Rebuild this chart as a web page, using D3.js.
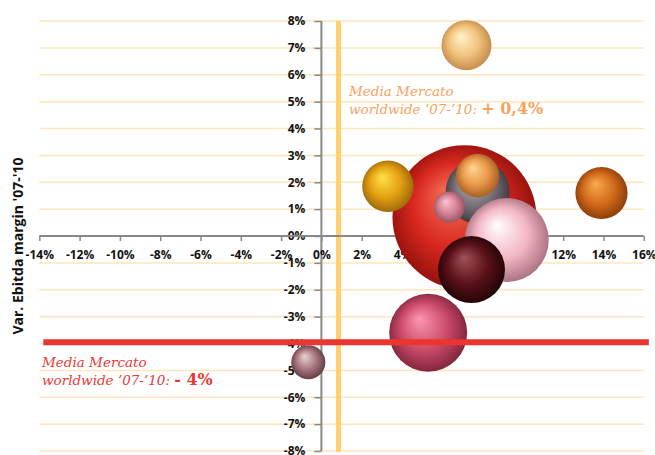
<!DOCTYPE html>
<html lang="it">
<head>
    <meta charset="UTF-8">
    <title>Var. Ebitda margin '07-'10</title>
    <script src="https://d3js.org/d3.v7.min.js"></script>
    <style>
        body { margin: 0; background: #fff; }
        .tick-label {
            font-family: "Open Sans", "Liberation Sans", sans-serif;
            font-size: 12px;
            font-weight: bold;
            fill: #111;
        }
        .axis-title {
            font-family: "Open Sans", "Liberation Sans", sans-serif;
            font-size: 14px;
            font-weight: bold;
            fill: #111;
        }
        .note {
            font-family: Georgia, "DejaVu Serif", serif;
            font-style: italic;
            font-size: 13.5px;
        }
        .note-value {
            font-style: normal;
            font-weight: bold;
            font-size: 16px;
        }
    </style>
</head>
<body>
    <svg width="655" height="455"></svg>

    <script>
        // bubble data (x = var. ricavi %, y = var. ebitda margin %)
        var names  = ["a", "b", "c", "d", "e", "f", "g", "h", "i", "j", "k"];
        var xVals  = [7.1, 3.3, 7.75, 7.75, 6.35, 9.2, 7.45, 7.2, 5.3, -0.65, 13.9];
        var yVals  = [0.7, 1.85, 1.65, 2.25, 1.08, -0.15, -1.25, 7.1, -3.6, -4.7, 1.6];
        var sizes  = [51.8, 6.6, 10.2, 4.7, 2.4, 17.6, 11.2, 6.25, 15.2, 2.9, 6.8];
        var colors = [
            ["#f6705a", "#d8281f", "#8a0e0a"],
            ["#ffe44a", "#e3a012", "#94600a"],
            ["#c0b8b8", "#77707a", "#3a3234"],
            ["#ffd890", "#e8984a", "#9e5618"],
            ["#f8c4d0", "#d58294", "#8e4e5a"],
            ["#ffffff", "#f2b6c4", "#a06878"],
            ["#a0525a", "#5a1018", "#1a0305"],
            ["#fff4c8", "#f0c27c", "#bc8644"],
            ["#fc98b0", "#cc4a6a", "#762036"],
            ["#ecd2d2", "#a6747c", "#56363c"],
            ["#f8ac4c", "#d26a1a", "#823606"]
        ];

        var xTicks = d3.range(-14, 17, 2);
        var yTicks = d3.range(-8, 9, 1);

        var refX = 0.85;   // Media Mercato worldwide + 0,4%
        var refY = -3.95;  // Media Mercato worldwide - 4%

        var bubbles = names.map(function(n, i) {
            return { name: n, x: xVals[i], y: yVals[i], size: sizes[i], color: colors[i] };
        });

        var svg = d3.select("svg");

        var x = d3.scaleLinear().domain([-14, 16]).range([39.3, 643.8]);
        var y = d3.scaleLinear().domain([-8, 8]).range([451, 21]);
        var r = d3.scaleSqrt().domain([0, d3.max(sizes)]).range([0, 72]);

        var fmt = function(d) { return d + "%"; };

        // grid lines
        svg.append("g")
           .selectAll("line")
           .data(yTicks.filter(function(d) { return d !== 0; }))
           .join("line")
           .attr("x1", x(-14))
           .attr("x2", x(16))
           .attr("y1", function(d) { return y(d); })
           .attr("y2", function(d) { return y(d); })
           .attr("stroke", "#ffe6bc")
           .attr("stroke-width", 1.5);

        // reference line vertical
        svg.append("line")
           .attr("x1", x(refX)).attr("x2", x(refX))
           .attr("y1", y(8)).attr("y2", y(-8) + 1)
           .attr("stroke", "#ffd06c")
           .attr("stroke-width", 5);

        // axes
        var yAxis = svg.append("g")
           .attr("transform", "translate(" + x(0) + ",0)")
           .call(d3.axisLeft(y).tickValues(yTicks).tickFormat(fmt).tickSize(7).tickPadding(9));

        var xAxis = svg.append("g")
           .attr("transform", "translate(0," + y(0) + ")")
           .call(d3.axisBottom(x).tickValues(xTicks).tickFormat(fmt).tickSize(5).tickPadding(9));

        [xAxis, yAxis].forEach(function(a) {
            a.select(".domain").attr("stroke", "#888").attr("stroke-width", 2);
            a.selectAll(".tick line").attr("stroke", "#888").attr("stroke-width", 1.5);
            a.selectAll(".tick text").attr("class", "tick-label").attr("fill", null);
        });
        xAxis.select(".domain").attr("d", "M" + x(-14) + ",0H" + x(16));
        yAxis.select(".domain").attr("d", "M0," + y(8) + "V" + y(-8));

        // bubble gradients
        var defs = svg.append("defs");
        bubbles.forEach(function(b) {
            var g = defs.append("radialGradient")
                .attr("id", "grad-" + b.name)
                .attr("cx", "50%").attr("cy", "50%").attr("r", "55%")
                .attr("fx", "38%").attr("fy", "32%");
            g.append("stop").attr("offset", "0%").attr("stop-color", b.color[0]);
            g.append("stop").attr("offset", "55%").attr("stop-color", b.color[1]);
            g.append("stop").attr("offset", "100%").attr("stop-color", b.color[2]);
        });

        svg.append("g")
           .selectAll("circle")
           .data(bubbles)
           .join("circle")
           .attr("cx", function(d) { return x(d.x); })
           .attr("cy", function(d) { return y(d.y); })
           .attr("r", function(d) { return r(d.size); })
           .attr("fill", function(d) { return "url(#grad-" + d.name + ")"; });

        // reference line horizontal
        svg.append("line")
           .attr("x1", x(-13.8)).attr("x2", x(16.25))
           .attr("y1", y(refY)).attr("y2", y(refY))
           .attr("stroke", "#ea3530")
           .attr("stroke-width", 6);

        // notes
        function note(px, py, color, value) {
            svg.append("text")
                .attr("class", "note")
                .attr("x", px).attr("y", py)
                .attr("fill", color)
                .text("Media Mercato");
            var l2 = svg.append("text")
                .attr("class", "note")
                .attr("x", px).attr("y", py + 18)
                .attr("fill", color);
            l2.append("tspan").text("worldwide \u201907-\u201910: ");
            l2.append("tspan").attr("class", "note-value").text(value);
        }
        note(349, 96, "#f5a35e", "+ 0,4%");
        note(42, 367, "#e83a36", "- 4%");

        // y axis title
        svg.append("text")
           .attr("class", "axis-title")
           .attr("transform", "translate(23,246) rotate(-90)")
           .attr("text-anchor", "middle")
           .text("Var. Ebitda margin '07-'10");
    </script>
</body>
</html>
